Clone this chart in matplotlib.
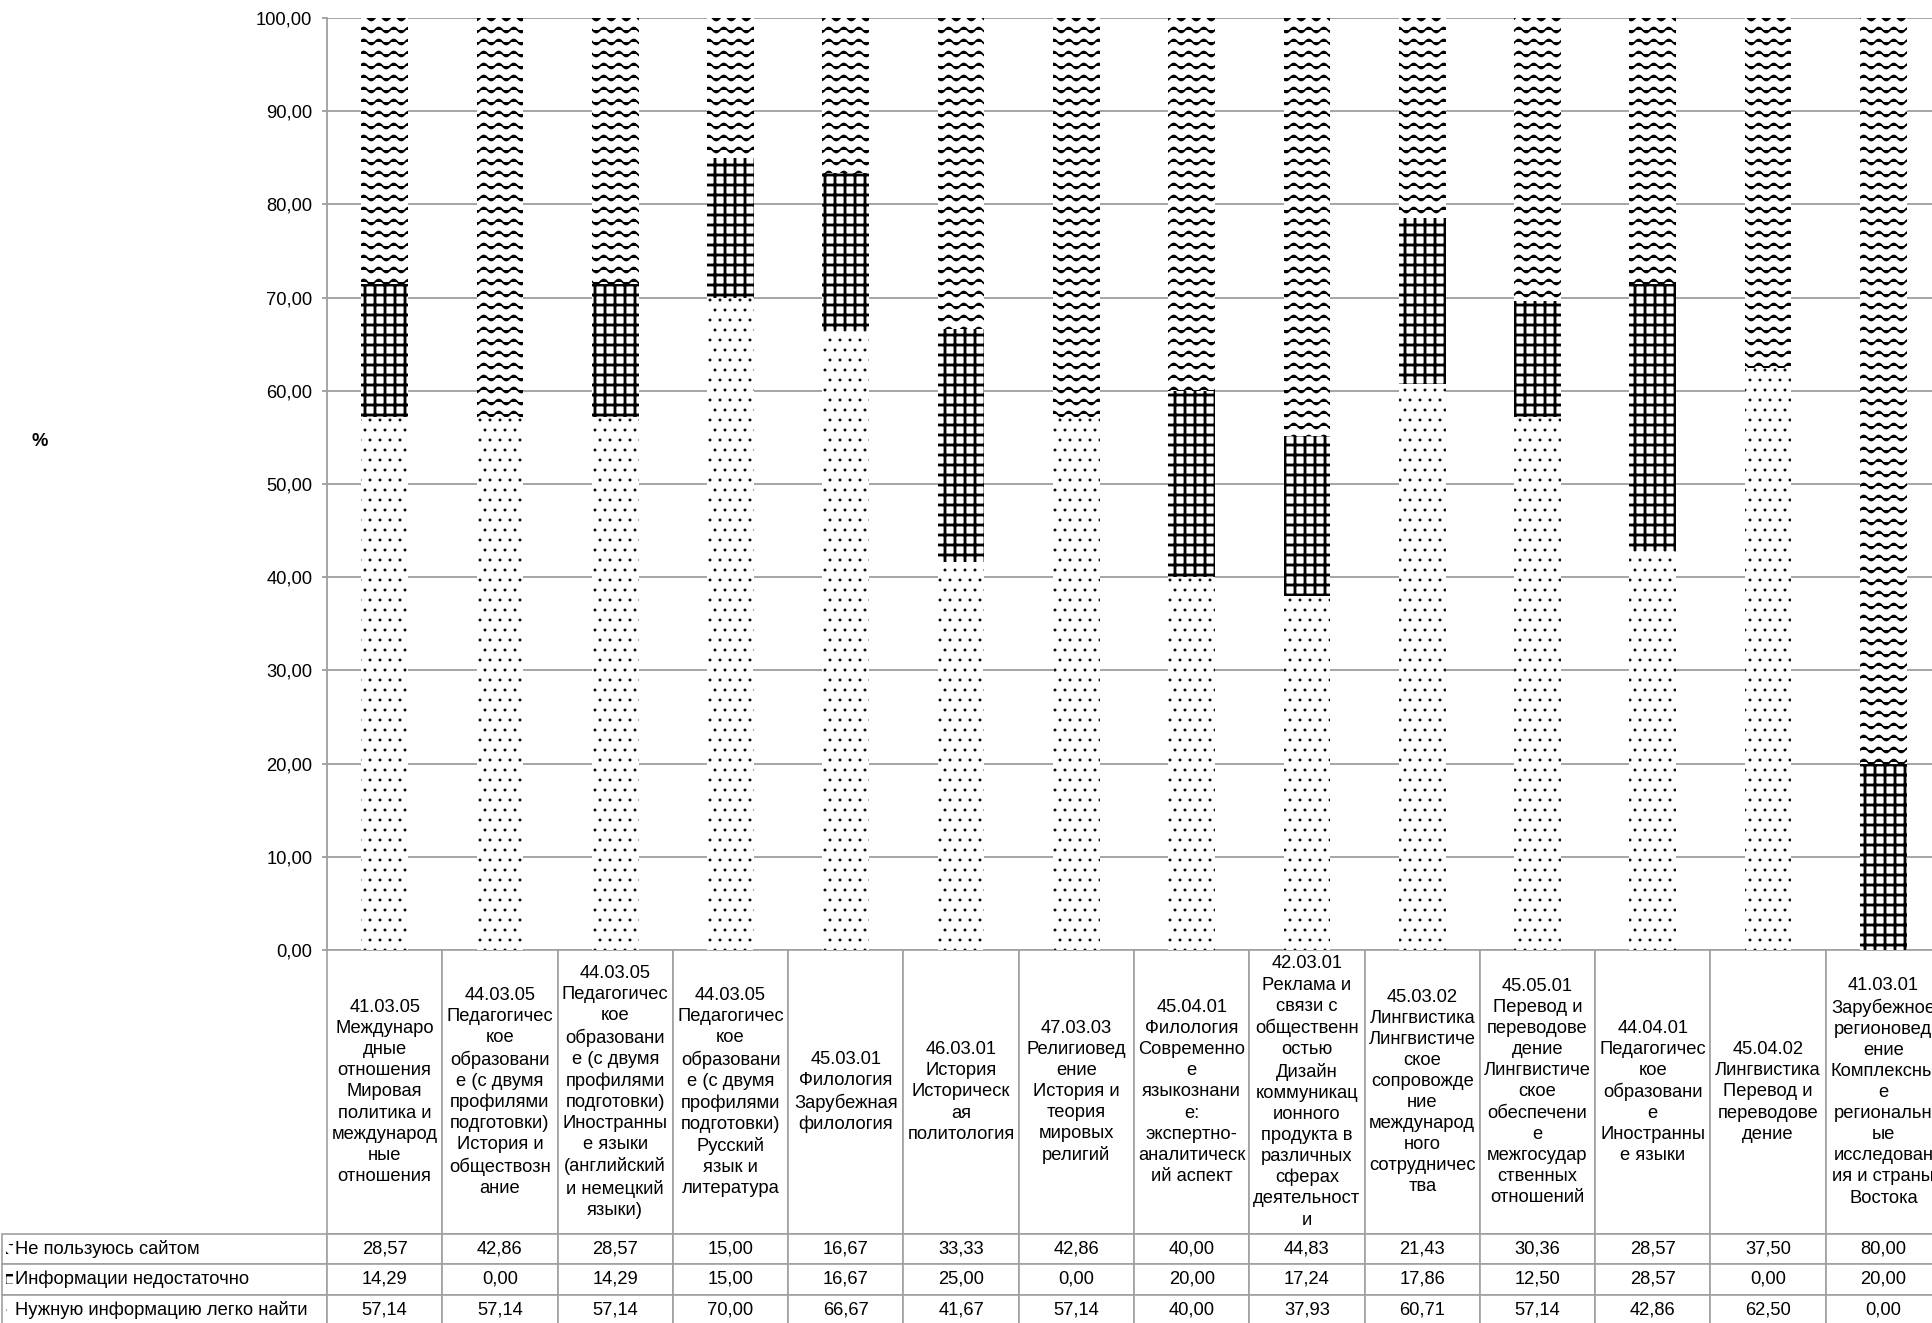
import warnings
warnings.filterwarnings("ignore")
import numpy as np
import matplotlib
matplotlib.use("Agg")
import matplotlib.pyplot as plt
import matplotlib.hatch as mhatch
from matplotlib.path import Path
from matplotlib.patches import Rectangle
from matplotlib.ticker import FuncFormatter, MultipleLocator

# ---------------- data ----------------
categories = [
    "41.03.05\nМеждунаро\nдные\nотношения\nМировая\nполитика и\nмеждународ\nные\nотношения",
    "44.03.05\nПедагогичес\nкое\nобразовани\nе (с двумя\nпрофилями\nподготовки)\nИстория и\nобществозн\nание",
    "44.03.05\nПедагогичес\nкое\nобразовани\nе (с двумя\nпрофилями\nподготовки)\nИностранны\nе языки\n(английский\nи немецкий\nязыки)",
    "44.03.05\nПедагогичес\nкое\nобразовани\nе (с двумя\nпрофилями\nподготовки)\nРусский\nязык и\nлитература",
    "45.03.01\nФилология\nЗарубежная\nфилология",
    "46.03.01\nИстория\nИсторическ\nая\nполитология",
    "47.03.03\nРелигиовед\nение\nИстория и\nтеория\nмировых\nрелигий",
    "45.04.01\nФилология\nСовременно\nе\nязыкознани\nе:\nэкспертно-\nаналитическ\nий аспект",
    "42.03.01\nРеклама и\nсвязи с\nобщественн\nостью\nДизайн\nкоммуникац\nионного\nпродукта в\nразличных\nсферах\nдеятельност\nи",
    "45.03.02\nЛингвистика\nЛингвистиче\nское\nсопровожде\nние\nмеждународ\nного\nсотрудничес\nтва",
    "45.05.01\nПеревод и\nпереводове\nдение\nЛингвистиче\nское\nобеспечени\nе\nмежгосудар\nственных\nотношений",
    "44.04.01\nПедагогичес\nкое\nобразовани\nе\nИностранны\nе языки",
    "45.04.02\nЛингвистика\nПеревод и\nпереводове\nдение",
    "41.03.01\nЗарубежное\nрегионовед\nение\nКомплексны\nе\nрегиональн\nые\nисследован\nия и страны\nВостока",
]
series_names = ["Не пользуюсь сайтом", "Информации недостаточно", "Нужную информацию легко найти"]
not_use = [28.57, 42.86, 28.57, 15.00, 16.67, 33.33, 42.86, 40.00, 44.83, 21.43, 30.36, 28.57, 37.50, 80.00]
not_enough = [14.29, 0.00, 14.29, 15.00, 16.67, 25.00, 0.00, 20.00, 17.24, 17.86, 12.50, 28.57, 0.00, 20.00]
easy_find = [57.14, 57.14, 57.14, 70.00, 66.67, 41.67, 57.14, 40.00, 37.93, 60.71, 57.14, 42.86, 62.50, 0.00]
y_label = "%"


# ---------------- custom wave hatch ----------------
class WaveHatch(mhatch.HatchPatternBase):
    def __init__(self, hatch, density):
        self.num_lines = hatch.count('~') * 10
        self.n_pts = 97
        self.num_vertices = self.num_lines * self.n_pts

    def set_vertices_and_codes(self, vertices, codes):
        xs = np.linspace(0, 1, self.n_pts)
        k = 0
        for i in range(self.num_lines):
            y0 = (i + 0.5) / self.num_lines
            vertices[k:k + self.n_pts, 0] = xs
            vertices[k:k + self.n_pts, 1] = y0 + 0.021 * np.sin(2 * np.pi * 8 * xs)
            codes[k] = Path.MOVETO
            codes[k + 1:k + self.n_pts] = Path.LINETO
            k += self.n_pts


mhatch._hatch_types.append(WaveHatch)

# ---------------- figure ----------------
DPI = 120
W, H = 1932, 1323
plt.rcParams['font.family'] = ['Liberation Sans', 'DejaVu Sans']
FS = 11

fig = plt.figure(figsize=(W / DPI, H / DPI), dpi=DPI)
fig.patch.set_facecolor('white')

ax_l, ax_r, ax_t, ax_b = 327, 1941, 18, 950
axw = ax_r - ax_l
axh = ax_b - ax_t
ax = fig.add_axes([ax_l / W, 1 - ax_b / H, axw / W, axh / H])

x = np.arange(len(categories))
easy = np.array(easy_find)
ne = np.array(not_enough)
nu = np.array(not_use)
bw = 0.405

HATCHES = [('..', 0.55), ('++', 1.7), ('~', 1.05)]
specs = [(easy, np.zeros_like(easy)), (ne, easy), (nu, easy + ne)]
for (vals, bottom), (hatch, hlw) in zip(specs, HATCHES):
    plt.rcParams['hatch.linewidth'] = hlw
    bars = ax.bar(x, vals, bw, bottom=bottom, color='white', edgecolor='black',
                  linewidth=0, hatch=hatch, zorder=3)
    for p in bars:
        if hasattr(p, 'set_hatch_linewidth'):
            p.set_hatch_linewidth(hlw)

ax.set_xlim(-0.5, len(categories) - 0.5)
ax.set_ylim(0, 100)
ax.yaxis.set_major_locator(MultipleLocator(10))
ax.yaxis.set_major_formatter(FuncFormatter(lambda v, p: f"{v:.2f}".replace('.', ',')))
ax.set_xticks([])
grid_c = '#a0a0a0'
ax.grid(axis='y', color=grid_c, linewidth=1.1, zorder=0)
ax.set_axisbelow(True)
for s in ['top', 'right', 'bottom']:
    ax.spines[s].set_visible(False)
ax.spines['left'].set_color(grid_c)
ax.spines['left'].set_linewidth(1.1)
ax.tick_params(axis='y', length=2.8, width=1.1, color=grid_c, pad=6, labelsize=FS, labelcolor='black')

ax.set_ylabel(y_label, rotation=0, fontweight='bold', fontsize=FS, ha='center', va='center')
ax.yaxis.set_label_coords((40 - ax_l) / axw, (ax_b - 441) / axh)

# ---------------- data table ----------------
hdr_h = 284.0
row_h = 30.3
lab_w = ax_l - 2
col_w = axw / len(categories)
tbl_h = hdr_h + 3 * row_h
cell_text = [[f"{v:.2f}".replace('.', ',') for v in row] for row in (not_use, not_enough, easy_find)]
tbl = ax.table(cellText=cell_text, rowLabels=series_names, colLabels=categories,
               cellLoc='center', rowLoc='left', colLoc='center',
               bbox=[0, -tbl_h / axh, 1, tbl_h / axh])
# keep the row-label column at a fixed width (no auto sizing)
tbl._autoColumns = [c for c in tbl._autoColumns if c != -1]
tbl.auto_set_font_size(False)
tbl.set_fontsize(FS)
for (r, c), cell in tbl.get_celld().items():
    cell.set_edgecolor(grid_c)
    cell.set_linewidth(1.0)
    cell.set_width((lab_w if c == -1 else col_w) / axw)
    cell.set_height((hdr_h if r == 0 else row_h) / axh)
    if c == -1:
        cell.PAD = 13.0 / lab_w
    cell.get_text().set_linespacing(1.31)
    cell.get_text().set_fontsize(FS)

# small legend keys in row label cells
for i, (hatch, hlw) in enumerate([HATCHES[2], HATCHES[1], HATCHES[0]]):
    yc = ax_b + hdr_h + row_h * (i + 0.5)
    plt.rcParams['hatch.linewidth'] = hlw
    key = Rectangle(((6 - ax_l) / axw, (ax_b - yc - 5) / axh), 7 / axw, 10 / axh,
                    transform=ax.transAxes, facecolor='white', edgecolor='black',
                    linewidth=0, hatch=hatch, clip_on=False, zorder=5)
    if hasattr(key, 'set_hatch_linewidth'):
        key.set_hatch_linewidth(hlw)
    ax.add_patch(key)

fig.savefig("out.png", dpi=DPI, facecolor='white')
